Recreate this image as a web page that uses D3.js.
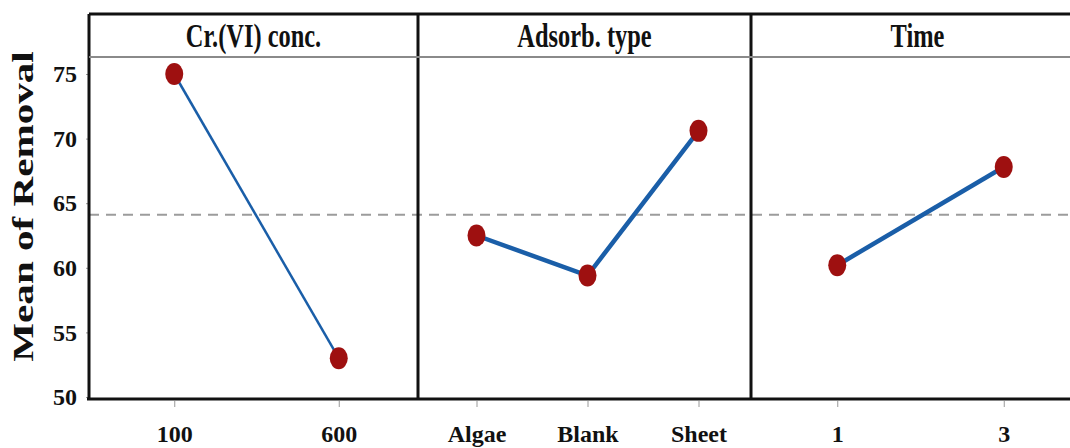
<!DOCTYPE html>
<html>
<head>
<meta charset="utf-8">
<script src="https://cdn.jsdelivr.net/npm/d3@7"></script>
<style>
  body { margin: 0; background: #fff; }
  svg { display: block; }
  text { font-family: "Liberation Serif", "DejaVu Serif", serif; font-weight: bold; }
</style>
</head>
<body>
<svg id="chart" width="1070" height="448"></svg>
<script>
// main effects plot: mean of removal per factor level

var panelTitles = ["Cr.(VI) conc.", "Adsorb. type", "Time"];
var crLevels = ["100", "600"];
var crMeans = [75.0, 53.0];
var adsLevels = ["Algae", "Blank", "Sheet"];
var adsMeans = [62.5, 59.4, 70.6];
var timeLevels = ["1", "3"];
var timeMeans = [60.2, 67.8];
var yTicks = [50, 55, 60, 65, 70, 75];
var grandMean = 64.1;

(function() {

var levels = [crLevels, adsLevels, timeLevels];
var means = [crMeans, adsMeans, timeMeans];
var lineWidths = [2.5, 4.5, 4.5];

var svg = d3.select("#chart"),
    frameTop = 14, header = 57, frameBottom = 399,
    edges = [89, 418, 751, 1084];

var y = d3.scaleLinear().domain([50, 75]).range([397, 74]);

// y axis
var yAxis = svg.append("g")
    .attr("transform", "translate(" + edges[0] + ",0)")
    .call(d3.axisLeft(y).tickValues(yTicks).tickSize(3).tickPadding(9));
yAxis.select(".domain").remove();
yAxis.selectAll(".tick line").attr("stroke", "#999");
yAxis.selectAll(".tick text")
    .attr("fill", "#111")
    .style("font-size", "24px");

// axis title
svg.append("text")
    .attr("transform", "translate(33," + ((frameTop + frameBottom) / 2) + ") rotate(-90) scale(1.37,1)")
    .attr("text-anchor", "middle")
    .attr("fill", "#111")
    .style("font-size", "30px")
    .text("Mean of Removal");

// reference line at grand mean
svg.append("line")
    .attr("x1", edges[0]).attr("x2", 1070)
    .attr("y1", y(grandMean)).attr("y2", y(grandMean))
    .attr("stroke", "#9c9c9c")
    .attr("stroke-width", 2)
    .attr("stroke-dasharray", "10,7");

levels.forEach(function(lv, i) {
  var x0 = edges[i], x1 = edges[i + 1];
  var x = d3.scalePoint().domain(lv).range([x0 + 3, x1 + 3]).padding(0.5);

  var xAxis = svg.append("g")
      .attr("transform", "translate(0," + (frameBottom + 2) + ")")
      .call(d3.axisBottom(x).tickSize(6).tickPadding(18));
  xAxis.select(".domain").remove();
  xAxis.selectAll(".tick line").attr("stroke", "#999");
  xAxis.selectAll(".tick text")
      .attr("fill", "#111")
      .style("font-size", "24px");

  // panel title
  svg.append("text")
      .attr("transform", "translate(" + ((x0 + x1) / 2) + ",47) scale(0.74,1)")
      .attr("text-anchor", "middle")
      .attr("fill", "#111")
      .style("font-size", "33px")
      .text(panelTitles[i]);

  var pts = lv.map(function(d, j) { return {level: d, value: means[i][j]}; });

  var line = d3.line()
      .x(function(d) { return x(d.level); })
      .y(function(d) { return y(d.value); });

  svg.append("path")
      .datum(pts)
      .attr("fill", "none")
      .attr("stroke", "#1a5ea8")
      .attr("stroke-width", lineWidths[i])
      .attr("d", line);

  svg.selectAll(".pt" + i)
    .data(pts)
    .enter()
    .append("ellipse")
      .attr("class", "pt" + i)
      .attr("cx", function(d) { return x(d.level); })
      .attr("cy", function(d) { return y(d.value); })
      .attr("rx", 9)
      .attr("ry", 11)
      .attr("fill", "#9e1010");
});

// frame
var frame = svg.append("g").attr("stroke", "#111").attr("stroke-width", 3);
frame.append("line").attr("x1", edges[0]).attr("x2", 1070).attr("y1", frameTop).attr("y2", frameTop);
frame.append("line").attr("x1", edges[0] - 2).attr("x2", 1070).attr("y1", frameBottom).attr("y2", frameBottom);
edges.slice(0, 3).forEach(function(e) {
  frame.append("line").attr("x1", e).attr("x2", e).attr("y1", frameTop).attr("y2", frameBottom);
});
svg.append("line")
    .attr("x1", edges[0]).attr("x2", 1070)
    .attr("y1", header).attr("y2", header)
    .attr("stroke", "#8a8a8a")
    .attr("stroke-width", 2);

})();
</script>
</body>
</html>
